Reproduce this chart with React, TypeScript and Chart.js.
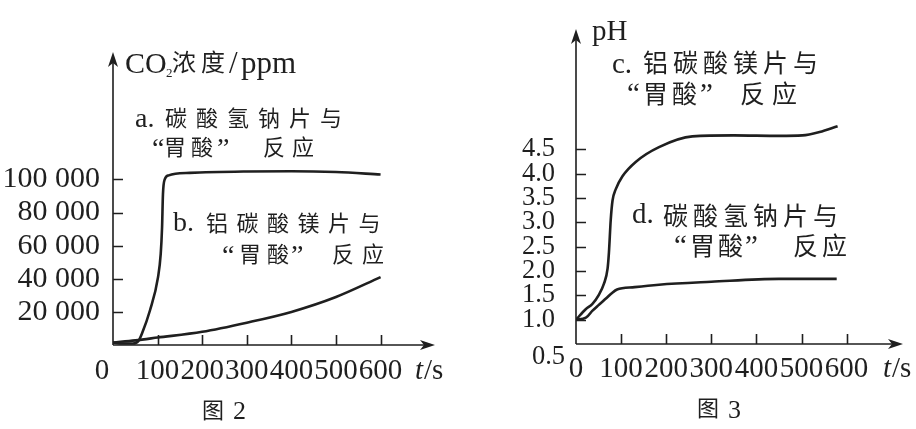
import React, { useEffect, useRef } from 'react';
import { Chart, registerables } from 'chart.js';

Chart.register(...registerables);

// ---------- data ----------
const timeTicks = [0, 100, 200, 300, 400, 500, 600];
const co2Ticks = [0, 20000, 40000, 60000, 80000, 100000];
const phTicks = [0.5, 1.0, 1.5, 2.0, 2.5, 3.0, 3.5, 4.0, 4.5];

// 图2 a. 碳酸氢钠片与“胃酸”反应 (CO2 ppm)
const aTimes = [0, 20, 45, 57, 65, 83, 101, 107, 110, 112, 116, 125, 140, 172, 300, 400, 500, 600];
const aValues = [1500, 900, 900, 2500, 7000, 21000, 41000, 55000, 71000, 91000, 100000, 102500, 103500, 104000, 104800, 105000, 104500, 103000];
// 图2 b. 铝碳酸镁片与“胃酸”反应 (CO2 ppm)
const bTimes = [0, 50, 100, 200, 300, 400, 500, 600];
const bValues = [1500, 2800, 4500, 8000, 13500, 20000, 29000, 41000];

// 图3 c. 铝碳酸镁片与“胃酸”反应 (pH)
const cTimes = [0, 22, 36, 50, 62, 70, 73, 77, 81, 88, 103, 133, 184, 258, 350, 450, 502, 540, 580];
const cValues = [1.0, 1.22, 1.32, 1.5, 1.74, 2.05, 2.38, 3.05, 3.45, 3.68, 3.95, 4.25, 4.55, 4.77, 4.79, 4.78, 4.79, 4.86, 4.98];
// 图3 d. 碳酸氢钠片与“胃酸”反应 (pH)
const dTimes = [0, 22, 36, 50, 67, 80, 91, 130, 184, 300, 450, 578];
const dValues = [1.0, 1.04, 1.18, 1.3, 1.44, 1.55, 1.62, 1.67, 1.72, 1.78, 1.84, 1.84];

// ---------- style ----------
const SERIF = '"Liberation Serif", "Times New Roman", "DejaVu Serif", serif';
const CJK = '"Noto Sans CJK SC", "Noto Sans CJK JP", sans-serif';
const INK = '#1f1f1f';

type TextItem = {
  s: string;
  x: number;
  y: number;
  font: string;
  base?: CanvasTextBaseline;
  align?: CanvasTextAlign;
};

const serif = (px: number, italic = false) => `${italic ? 'italic ' : ''}${px}px ${SERIF}`;
const cjk = (px: number) => `${px}px ${CJK}`;

function spaced(chars: string, x0: number, pitch: number, y: number, px: number): TextItem[] {
  return Array.from(chars).map((c, i) => ({ s: c, x: x0 + i * pitch, y, font: cjk(px), base: 'middle' as CanvasTextBaseline }));
}

// page coordinates
const texts1: TextItem[] = [
  { s: 'CO', x: 125, y: 73, font: serif(30) },
  { s: '2', x: 166, y: 77, font: serif(13) },
  { s: '浓', x: 172, y: 62, font: cjk(24), base: 'middle' },
  { s: '度', x: 201, y: 62, font: cjk(24), base: 'middle' },
  { s: '/', x: 229, y: 73, font: serif(31) },
  { s: 'ppm', x: 241, y: 73, font: serif(31) },
  // a
  { s: 'a.', x: 135, y: 127, font: serif(28) },
  ...spaced('碳酸氢钠片与', 165, 31, 117.5, 22),
  { s: '“', x: 152, y: 157, font: serif(28) },
  { s: '胃', x: 164, y: 147, font: cjk(22), base: 'middle' },
  { s: '酸', x: 191, y: 147, font: cjk(22), base: 'middle' },
  { s: '”', x: 217, y: 157, font: serif(28) },
  { s: '反', x: 263, y: 147, font: cjk(22), base: 'middle' },
  { s: '应', x: 292, y: 147, font: cjk(22), base: 'middle' },
  // b
  { s: 'b.', x: 173, y: 231, font: serif(28) },
  ...spaced('铝碳酸镁片与', 206, 30.5, 223, 22),
  { s: '“', x: 222, y: 264, font: serif(28) },
  { s: '胃', x: 239, y: 254, font: cjk(22), base: 'middle' },
  { s: '酸', x: 267, y: 254, font: cjk(22), base: 'middle' },
  { s: '”', x: 291, y: 264, font: serif(28) },
  { s: '反', x: 332, y: 254, font: cjk(22), base: 'middle' },
  { s: '应', x: 362, y: 254, font: cjk(22), base: 'middle' },
  // axis extras
  { s: '0', x: 102, y: 379, font: serif(29), align: 'center' },
  { s: 't', x: 415, y: 379, font: serif(29, true) },
  { s: '/s', x: 424, y: 379, font: serif(29) },
  { s: '图', x: 202, y: 410, font: cjk(22), base: 'middle' },
  { s: '2', x: 233, y: 419, font: serif(26) },
];

const texts2: TextItem[] = [
  { s: 'pH', x: 592, y: 40, font: serif(29) },
  // c
  { s: 'c.', x: 612, y: 73, font: serif(29) },
  ...spaced('铝碳酸镁片与', 643, 30, 62, 25),
  { s: '“', x: 627, y: 103, font: serif(29) },
  { s: '胃', x: 643, y: 93.5, font: cjk(25), base: 'middle' },
  { s: '酸', x: 672, y: 93.5, font: cjk(25), base: 'middle' },
  { s: '”', x: 700, y: 103, font: serif(29) },
  { s: '反', x: 740, y: 93.5, font: cjk(25), base: 'middle' },
  { s: '应', x: 772, y: 93.5, font: cjk(25), base: 'middle' },
  // d
  { s: 'd.', x: 632, y: 223, font: serif(29) },
  ...spaced('碳酸氢钠片与', 663, 30, 215, 25),
  { s: '“', x: 674, y: 255, font: serif(29) },
  { s: '胃', x: 690, y: 245, font: cjk(25), base: 'middle' },
  { s: '酸', x: 718, y: 245, font: cjk(25), base: 'middle' },
  { s: '”', x: 745, y: 255, font: serif(29) },
  { s: '反', x: 793, y: 245, font: cjk(25), base: 'middle' },
  { s: '应', x: 822, y: 245, font: cjk(25), base: 'middle' },
  // axis extras
  { s: '0.5', x: 565, y: 364, font: serif(26.5), align: 'right' },
  { s: 't', x: 883, y: 377, font: serif(29, true) },
  { s: '/s', x: 892, y: 377, font: serif(29) },
  { s: '图', x: 697, y: 408, font: cjk(22), base: 'middle' },
  { s: '3', x: 728, y: 418, font: serif(26) },
];

function decorPlugin(id: string, texts: TextItem[], offsetX: number, xTicks: number[], yTicks: number[]) {
  return {
    id,
    afterDraw(chart: any) {
      const { ctx, chartArea } = chart;
      const { left, top, right, bottom } = chartArea;
      const xs = chart.scales.x;
      const ys = chart.scales.y;
      ctx.save();
      ctx.strokeStyle = INK;
      ctx.fillStyle = INK;
      ctx.lineWidth = 1.6;
      ctx.lineCap = 'butt';
      // axes
      ctx.beginPath();
      ctx.moveTo(left, bottom);
      ctx.lineTo(right - 8, bottom);
      ctx.moveTo(left, bottom);
      ctx.lineTo(left, top + 8);
      ctx.stroke();
      // arrow heads
      ctx.beginPath();
      ctx.moveTo(right, bottom);
      ctx.lineTo(right - 15, bottom - 5);
      ctx.lineTo(right - 11, bottom);
      ctx.lineTo(right - 15, bottom + 5);
      ctx.closePath();
      ctx.fill();
      ctx.beginPath();
      ctx.moveTo(left, top);
      ctx.lineTo(left - 5, top + 15);
      ctx.lineTo(left, top + 11);
      ctx.lineTo(left + 5, top + 15);
      ctx.closePath();
      ctx.fill();
      // inward tick marks
      ctx.beginPath();
      for (const v of xTicks) {
        if (v === xs.min) continue;
        const px = Math.round(xs.getPixelForValue(v)) + 0.5;
        ctx.moveTo(px, bottom);
        ctx.lineTo(px, bottom - 10);
      }
      for (const v of yTicks) {
        if (v === ys.min) continue;
        const py = Math.round(ys.getPixelForValue(v)) + 0.5;
        ctx.moveTo(left, py);
        ctx.lineTo(left + 10, py);
      }
      ctx.stroke();
      // texts
      for (const t of texts) {
        ctx.font = t.font;
        ctx.textAlign = t.align || 'left';
        ctx.textBaseline = t.base || 'alphabetic';
        ctx.fillText(t.s, t.x - offsetX, t.y);
      }
      ctx.restore();
    },
  };
}

const pts = (ts: number[], vs: number[]) => ts.map((t, i) => ({ x: t, y: vs[i] }));

const lineDs = (ts: number[], vs: number[]) => ({
  data: pts(ts, vs),
  borderColor: INK,
  borderWidth: 2.6,
  pointRadius: 0,
  fill: false,
  cubicInterpolationMode: 'monotone' as const,
});

function fmtThousands(v: number) {
  return String(v).replace(/\B(?=(\d{3})+(?!\d))/g, ' ');
}

export default function App() {
  const ref1 = useRef<HTMLCanvasElement>(null);
  const ref2 = useRef<HTMLCanvasElement>(null);

  useEffect(() => {
    const c1 = new Chart(ref1.current as HTMLCanvasElement, {
      type: 'line',
      data: { datasets: [lineDs(aTimes, aValues), lineDs(bTimes, bValues)] as any },
      options: {
        animation: false,
        responsive: false,
        events: [],
        layout: { padding: { left: 0, top: 52, right: 23, bottom: 0 } },
        plugins: { legend: { display: false }, tooltip: { enabled: false } },
        scales: {
          x: {
            type: 'linear',
            min: 0,
            max: 722,
            grid: { display: false },
            border: { display: false },
            afterBuildTicks: (s: any) => {
              s.ticks = timeTicks.map((v) => ({ value: v }));
            },
            afterFit: (s: any) => {
              s.height = 84;
            },
            ticks: {
              autoSkip: false,
              maxRotation: 0,
              minRotation: 0,
              padding: 1,
              color: INK,
              font: { family: SERIF, size: 29 },
              callback: (v: any) => (v === 0 ? '' : String(v)),
            },
          },
          y: {
            type: 'linear',
            min: 0,
            max: 177000,
            grid: { display: false },
            border: { display: false },
            afterBuildTicks: (s: any) => {
              s.ticks = co2Ticks.map((v) => ({ value: v }));
            },
            afterFit: (s: any) => {
              s.width = 113;
            },
            ticks: {
              autoSkip: false,
              padding: 5,
              color: INK,
              font: { family: SERIF, size: 30 },
              callback: (v: any) => (v === 0 ? '' : fmtThousands(Number(v))),
            },
          },
        },
      },
      plugins: [decorPlugin('decor1', texts1, 0, timeTicks, co2Ticks)],
    } as any);

    const c2 = new Chart(ref2.current as HTMLCanvasElement, {
      type: 'line',
      data: { datasets: [lineDs(cTimes, cValues), lineDs(dTimes, dValues)] as any },
      options: {
        animation: false,
        responsive: false,
        events: [],
        layout: { padding: { left: 0, top: 20, right: 13, bottom: 0 } },
        plugins: { legend: { display: false }, tooltip: { enabled: false } },
        scales: {
          x: {
            type: 'linear',
            min: 0,
            max: 725,
            grid: { display: false },
            border: { display: false },
            afterBuildTicks: (s: any) => {
              s.ticks = timeTicks.map((v) => ({ value: v }));
            },
            afterFit: (s: any) => {
              s.height = 85;
            },
            ticks: {
              autoSkip: false,
              maxRotation: 0,
              minRotation: 0,
              padding: 0,
              color: INK,
              font: { family: SERIF, size: 29 },
              callback: (v: any) => String(v),
            },
          },
          y: {
            type: 'linear',
            min: 0.5,
            max: 6.98,
            grid: { display: false },
            border: { display: false },
            afterBuildTicks: (s: any) => {
              s.ticks = phTicks.map((v) => ({ value: v }));
            },
            afterFit: (s: any) => {
              s.width = 118;
            },
            ticks: {
              autoSkip: false,
              padding: 13,
              color: INK,
              font: { family: SERIF, size: 26.5 },
              callback: (v: any) => (Number(v) === 0.5 ? '' : Number(v).toFixed(1)),
            },
          },
        },
      },
      plugins: [decorPlugin('decor2', texts2, 458, timeTicks, phTicks)],
    } as any);

    return () => {
      c1.destroy();
      c2.destroy();
    };
  }, []);

  return (
    <div style={{ position: 'absolute', left: 0, top: 0, width: 916, height: 429, background: '#fff' }}>
      <canvas ref={ref1} width={458} height={429} style={{ position: 'absolute', left: 0, top: 0 }} />
      <canvas ref={ref2} width={458} height={429} style={{ position: 'absolute', left: 458, top: 0 }} />
    </div>
  );
}
